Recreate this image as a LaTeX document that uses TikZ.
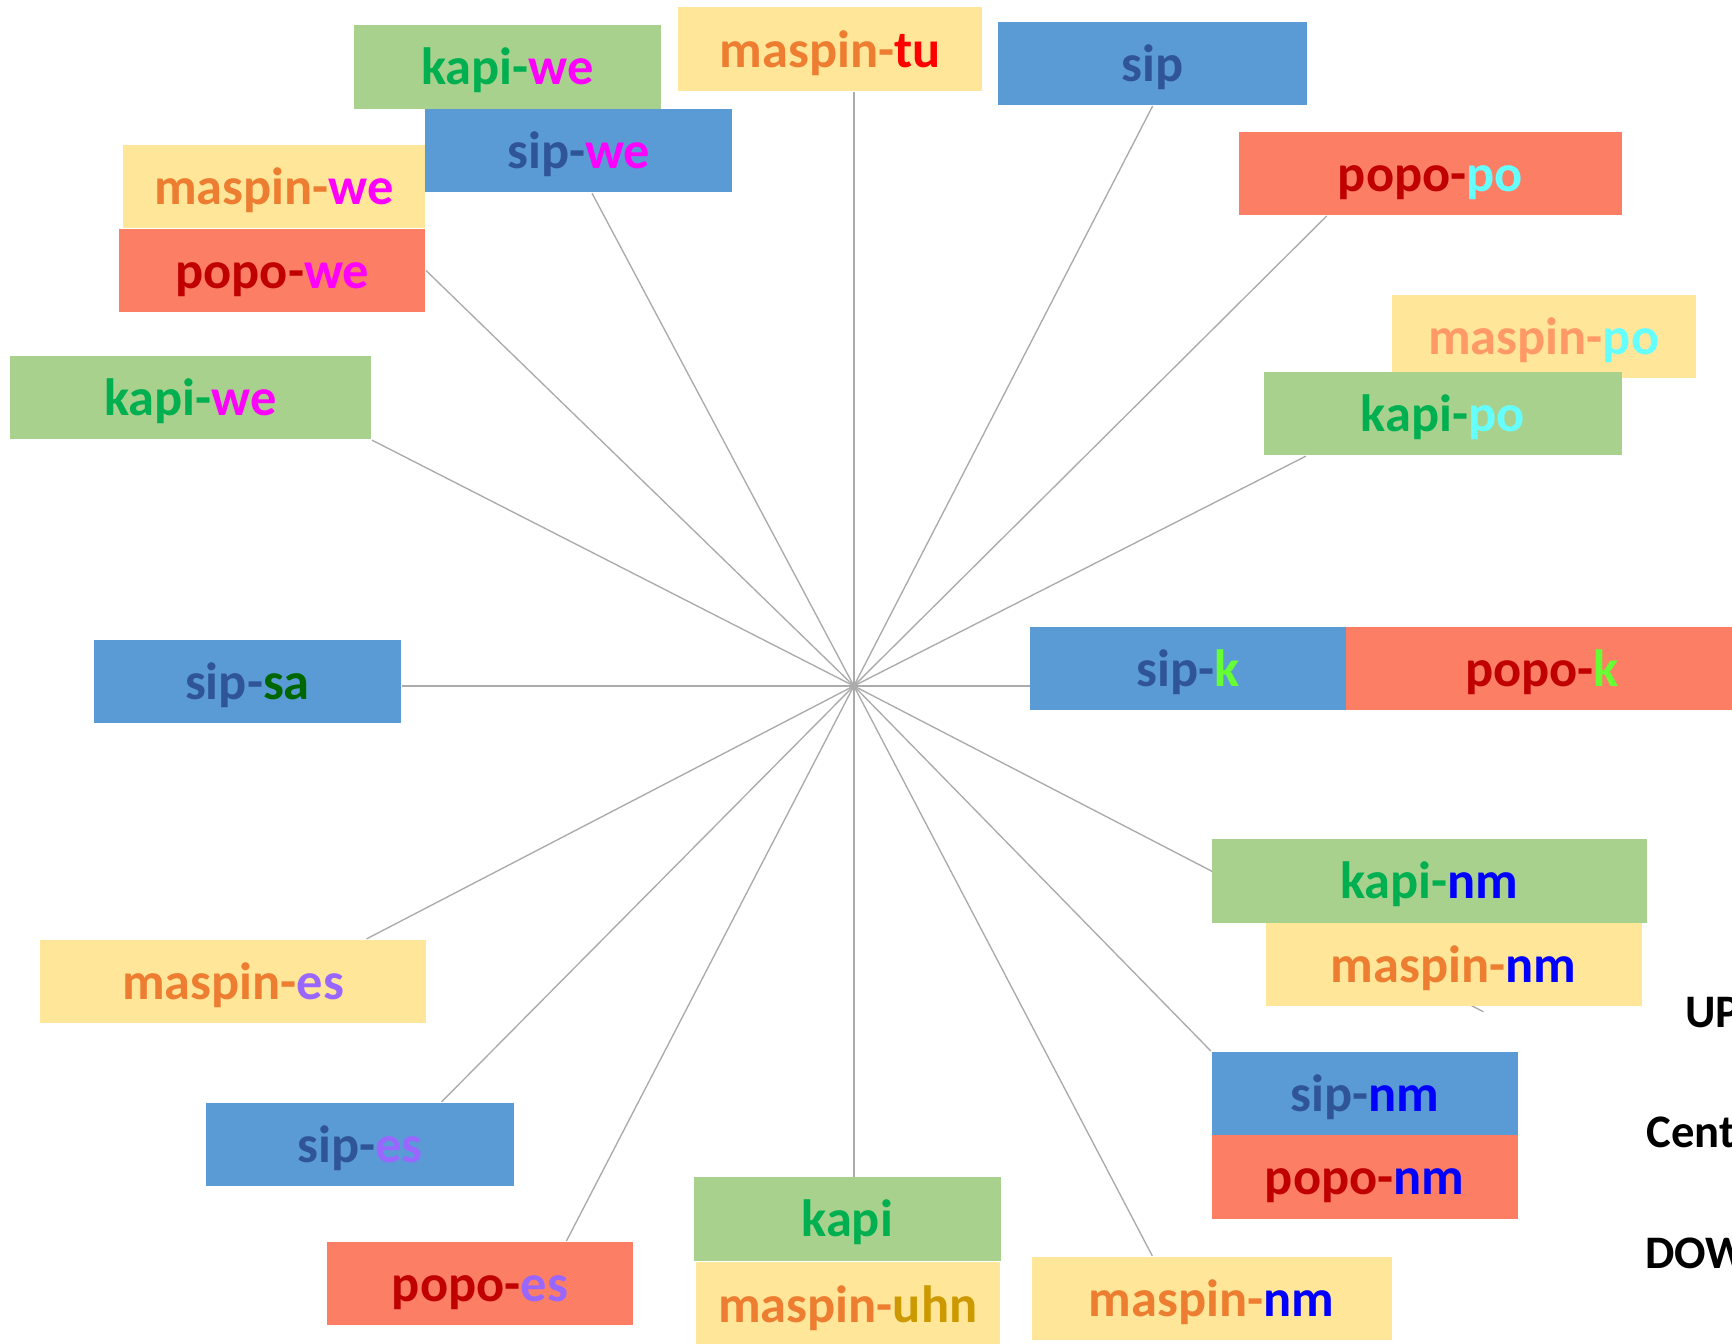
\documentclass[tikz,border=0pt]{standalone}
\usepackage{fontspec}
\setmainfont{Carlito}
\usetikzlibrary{calc,backgrounds}

\definecolor{kapiFill}{HTML}{A9D18E}
\definecolor{kapiText}{HTML}{00B050}
\definecolor{maspFill}{HTML}{FFE699}
\definecolor{maspText}{HTML}{ED7D31}
\definecolor{maspLight}{HTML}{FF9966}
\definecolor{sipFill}{HTML}{5B9BD5}
\definecolor{sipText}{HTML}{2F5597}
\definecolor{popoFill}{HTML}{FC7E64}
\definecolor{popoText}{HTML}{C00000}
\definecolor{spokeGray}{HTML}{ABABAB}
\definecolor{weC}{HTML}{FF00FF}
\definecolor{tuC}{HTML}{FF0000}
\definecolor{poC}{HTML}{66FFFF}
\definecolor{kC}{HTML}{66FF33}
\definecolor{nmC}{HTML}{0000FF}
\definecolor{esC}{HTML}{9966FF}
\definecolor{saC}{HTML}{006600}
\definecolor{uhnC}{HTML}{CC9900}

\tikzset{
  tag/.style={rectangle, inner sep=0pt, minimum height=0.755cm, text height=9.3pt, text depth=0pt,
    font=\fontsize{13.5}{16}\selectfont\bfseries},
  kapibox/.style={tag, fill=kapiFill, text=kapiText},
  maspbox/.style={tag, fill=maspFill, text=maspText},
  sipbox/.style={tag, fill=sipFill, text=sipText},
  popobox/.style={tag, fill=popoFill, text=popoText},
  spoke/.style={draw=spokeGray, line width=0.35pt},
  side/.style={anchor=base west, inner sep=0pt, font=\fontsize{12}{14}\selectfont\bfseries}
}

\begin{document}
\begin{tikzpicture}[x=0.01cm, y=-0.01cm]
    \useasboundingbox (0,0) rectangle (1568,1216);
    \clip (0,0) rectangle (1568,1216);

    % upper half
    \node[kapibox, minimum width=2.77cm] (kapiweA) at (459.5,60.5) {kapi-\textcolor{weC}{we}};
    \node[maspbox, minimum width=2.75cm] (masptu) at (751.5,44.5) {maspin-\textcolor{tuC}{tu}};
    \node[sipbox, minimum width=2.79cm] (sip) at (1043.5,57.5) {sip};
    \node[sipbox, minimum width=2.78cm] (sipwe) at (524,136.5) {sip-\textcolor{weC}{we}};
    \node[maspbox, minimum width=2.74cm] (maspwe) at (248,169) {maspin-\textcolor{weC}{we}};
    \node[popobox, minimum width=2.77cm] (popowe) at (246.5,245) {popo-\textcolor{weC}{we}};
    \node[popobox, minimum width=3.46cm] (popopo) at (1295,157) {popo-\textcolor{poC}{po}};
    \node[maspbox, text=maspLight, minimum width=2.75cm] (masppo) at (1397.5,304.5) {maspin-\textcolor{poC}{po}};
    \node[kapibox, minimum width=3.24cm] (kapipo) at (1306,374.5) {kapi-\textcolor{poC}{po}};
    \node[kapibox, minimum width=3.27cm] (kapiweB) at (172.5,360) {kapi-\textcolor{weC}{we}};

    % middle row
    \node[sipbox, minimum width=2.78cm] (sipsa) at (224,617) {sip-\textcolor{saC}{sa}};
    \node[sipbox, minimum width=2.86cm] (sipk) at (1076,605) {sip-\textcolor{kC}{k}};
    \node[popobox, minimum width=3.54cm] (popok) at (1396,605) {popo-\textcolor{kC}{k}};

    % lower half
    \node[kapibox, minimum width=3.94cm] (kapinm) at (1294,797.5) {kapi-\textcolor{nmC}{nm}};
    \node[maspbox, minimum width=3.40cm] (maspnmA) at (1316,873) {maspin-\textcolor{nmC}{nm}};
    \node[sipbox, minimum width=2.77cm] (sipnm) at (1235.5,990) {sip-\textcolor{nmC}{nm}};
    \node[popobox, minimum width=2.77cm] (poponm) at (1235.5,1065.5) {popo-\textcolor{nmC}{nm}};
    \node[maspbox, minimum width=3.26cm] (maspnmB) at (1097,1175.5) {maspin-\textcolor{nmC}{nm}};
    \node[kapibox, minimum width=2.78cm] (kapi) at (767,1103.5) {kapi};
    \node[maspbox, minimum width=2.75cm] (maspuhn) at (767.5,1180.5) {maspin-\textcolor{uhnC}{uhn}};
    \node[popobox, minimum width=2.77cm] (popoes) at (434.5,1162) {popo-\textcolor{esC}{es}};
    \node[sipbox, minimum width=2.78cm] (sipes) at (326,1036) {sip-\textcolor{esC}{es}};
    \node[maspbox, minimum width=3.50cm] (maspes) at (211,888.5) {maspin-\textcolor{esC}{es}};

    % side labels, cut by the page edge
    \node[side] (upL) at (1525,930) {UP};
    \node[side] (centL) at (1490,1039) {Cent};
    \node[side] (dowL) at (1489,1148) {DOW};

    % the spokes, under the boxes
    \begin{scope}[on background layer]
    \coordinate (hub) at (773,621);
    \coordinate (nmend) at (1343,916);
    \draw[spoke] (hub) -- (hub |- masptu.south);
    \draw[spoke] (hub) -- (hub |- maspuhn.north);
    \draw[spoke] (hub) -- (hub -| sipk.west);
    \draw[spoke] (hub) -- (hub -| sipsa.east);
    \foreach \t in {sip.south, popowe.east, kapiweB.south east, sipnm.north west, nmend} {
        \draw[spoke] (hub) -- (\t);
    }
    \draw[spoke] (hub) -- ($(sipwe.south)+(12,0)$);
    \draw[spoke] (hub) -- ($(popopo.south west)+(80,0)$);
    \draw[spoke] (hub) -- ($(kapipo.south west)+(39,0)$);
    \draw[spoke] (hub) -- ($(maspnmB.north west)+(110,0)$);
    \draw[spoke] (hub) -- ($(popoes.north east)+(-61,0)$);
    \draw[spoke] (hub) -- ($(sipes.north east)+(-66,0)$);
    \draw[spoke] (hub) -- ($(maspes.north east)+(-55,0)$);
    \end{scope}
\end{tikzpicture}
\end{document}
